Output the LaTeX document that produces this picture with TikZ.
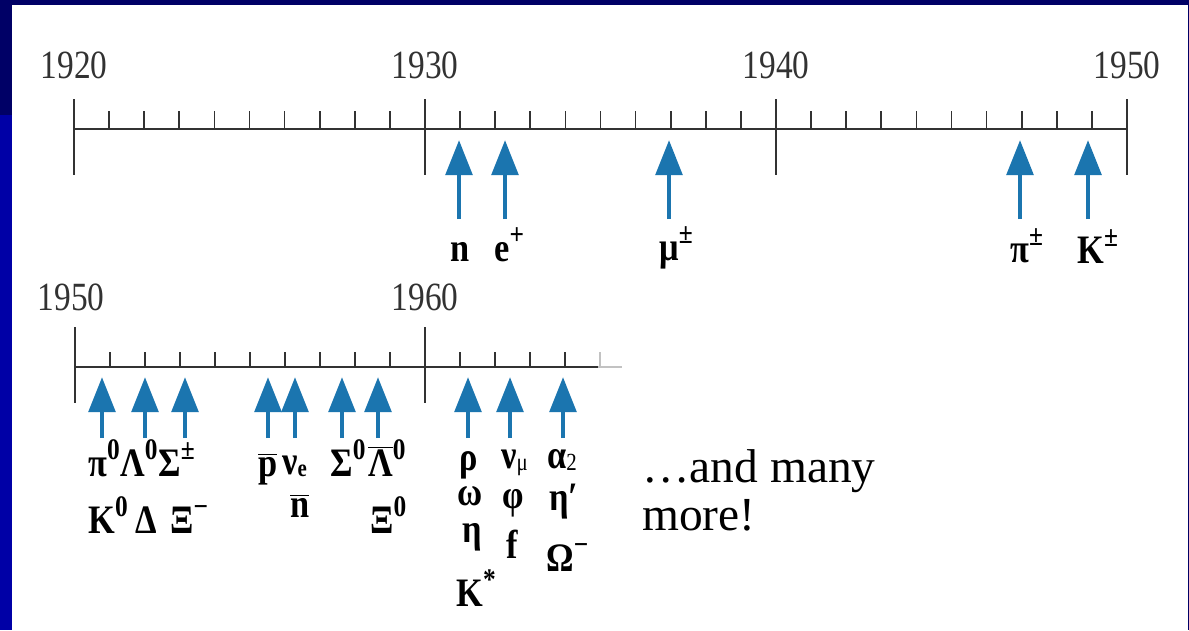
\documentclass[tikz,border=0pt]{standalone}
\usepackage{fontspec}
\setmainfont{Liberation Serif}
\usetikzlibrary{arrows.meta}
\definecolor{slidenavy}{RGB}{0,0,102}
\definecolor{slideblue}{RGB}{0,0,166}
\definecolor{arrowblue}{RGB}{27,117,175}
\definecolor{rulegray}{RGB}{50,50,50}
\newcommand{\ovl}[1]{$\overline{\hbox{#1}}$}
\newcommand{\hi}[1]{\raisebox{0.42em}{\fontsize{17}{17}\selectfont #1}}
\newcommand{\lo}[1]{\raisebox{-0.06em}{\fontsize{14}{14}\selectfont #1}}

\begin{document}
\begin{tikzpicture}[x=0.02cm,y=-0.02cm]
  \tikzstyle{yr}=[anchor=base,inner sep=0pt,text=rulegray,font=\fontsize{19}{20}\selectfont,yscale=1.2]
  \tikzstyle{pl}=[anchor=base west,inner sep=0pt,font=\fontsize{23}{24}\selectfont\bfseries,xscale=0.85]
  \tikzstyle{arr}=[-{Triangle[length=20pt,width=15pt]},arrowblue,line width=2.8pt]
  \tikzstyle{axis}=[rulegray,line width=1.2pt]
  \tikzstyle{tk}=[rulegray,line width=1pt]
  \tikzstyle{remark}=[anchor=base west,inner sep=0pt,font=\fontsize{27}{30}\selectfont]

  \useasboundingbox (0,0) rectangle (1189,630);
  % -- slide frame --
  \fill[slidenavy] (0,0) rectangle (1189,630);
  \fill[slideblue] (0,115) rectangle (12,630);
  \fill[white] (12,5) rectangle (1188,630);

  % -- 1920-1950 scale --
  \draw[axis] (74,129) -- (1127,129);
  \foreach \yr in {1920,...,1950}{
    \pgfmathtruncatemacro{\m}{mod(\yr,10)}
    \ifnum\m=0
      \draw[tk] ({74+35.1*(\yr-1920)},99) -- ++(0,76);
    \else
      \draw[tk] ({74+35.1*(\yr-1920)},111) -- ++(0,18);
    \fi
  }
  \foreach \yr in {1920,1930,1940,1950}
    \node[yr] (y\yr) at ({74+35.1*(\yr-1920)},78) {\yr};

  % -- 1950-1965 scale --
  \draw[axis] (75,367) -- (598,367);
  \draw[axis,rulegray!30] (598,367) -- (622,367);
  \foreach \yr in {1950,...,1964}{
    \pgfmathtruncatemacro{\m}{mod(\yr,10)}
    \ifnum\m=0
      \draw[tk] ({75+35*(\yr-1950)},327) -- ++(0,76);
    \else
      \draw[tk] ({75+35*(\yr-1950)},352) -- ++(0,15);
    \fi
  }
  \draw[tk,rulegray!30] (600,352) -- ++(0,15);
  \node[yr] (y1950b) at (71,310) {1950};
  \node[yr] (y1960)  at (425,310) {1960};

  % -- discoveries, upper row --
  \foreach \x [count=\i] in {459,505,669,1020,1088}{
    \coordinate (up\i-s) at (\x,219);
    \coordinate (up\i-t) at (\x,140);
    \draw[arr] (up\i-s) -- (up\i-t);
  }
  \node[pl] (n)   at (450,261)  {n};
  \node[pl] (ep)  at (494,261)  {e\hi{+}};
  \node[pl] (mu)  at (659,260)  {μ\hi{±}};
  \node[pl] (pic) at (1010,262) {π\hi{±}};
  \node[pl] (kc)  at (1077,263) {K\hi{±}};

  % -- discoveries, lower row --
  \foreach \x [count=\i] in {102,145,185,268,295,342,378,468,510,563}{
    \coordinate (lo\i-s) at (\x,438);
    \coordinate (lo\i-t) at (\x,377);
    \draw[arr] (lo\i-s) -- (lo\i-t);
  }
  \node[pl] (pi0) at (88,476)  {π\hi{0}};
  \node[pl] (la0) at (120,476) {Λ\hi{0}};
  \node[pl] (sic) at (158,476) {Σ\hi{±}};
  \node[pl] (k0)  at (88,533)  {K\hi{0}};
  \node[pl] (de)  at (135,533) {Δ};
  \node[pl] (xim) at (170,533) {Ξ\hi{−}};
  \node[pl] (pb)  at (258,476) {\ovl{p}};
  \node[pl] (nue) at (282,474) {ν\lo{e}};
  \node[pl] (nb)  at (290,517) {\ovl{n}};
  \node[pl] (si0) at (330,476) {Σ\hi{0}};
  \node[pl] (lb0) at (368,476) {\ovl{Λ}\hi{0}};
  \node[pl] (xi0) at (370,533) {Ξ\hi{0}};

  \node[pl] (rho) at (459,470) {ρ};
  \node[pl] (num) at (501,468) {ν\lo{\mdseries μ}};
  \node[pl] (al2) at (547,468) {α\lo{\mdseries 2}};
  \node[pl] (om)  at (457,505) {ω};
  \node[pl] (phi) at (502,508) {φ};
  \node[pl] (etp) at (549,510) {η′};
  \node[pl] (eta) at (462,542) {η};
  \node[pl] (ff)  at (506,558) {f};
  \node[pl] (omm) at (546,571) {Ω\hi{−}};
  \node[pl] (kst) at (456,606) {K\hi{*}};

  % -- closing remark --
  \node[remark] (more1) at (642,482) {…and many};
  \node[remark] (more2) at (642,530) {more!};
\end{tikzpicture}
\end{document}
